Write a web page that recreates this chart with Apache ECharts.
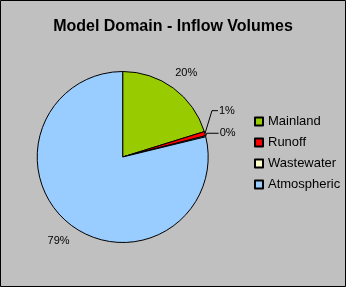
<!DOCTYPE html>
<html>
<head>
<meta charset="utf-8">
<script src="https://cdn.jsdelivr.net/npm/echarts@6/dist/echarts.min.js"></script>
<style>
html,body{margin:0;padding:0;background:#c0c0c0;}
#c{width:346px;height:287px;}
</style>
</head>
<body>
<div id="c"></div>
<script>
var categories = ['Mainland', 'Runoff', 'Wastewater', 'Atmospheric'];
var values = [20.2, 0.8, 0.2, 78.8];
var colors = ['#99cc00', '#ff0000', '#ffffcc', '#99ccff'];
var titleText = 'Model Domain - Inflow Volumes';

var CX = 122.7, CY = 157, R = 85.5;
var FONT = "'Liberation Sans', Arial, sans-serif";

var total = values.reduce(function (a, b) { return a + b; }, 0);
function midAngle(i) {
  var cum = 0;
  for (var k = 0; k < i; k++) cum += values[k];
  return (cum + values[i] / 2) / total * 2 * Math.PI;
}

var data = categories.map(function (name, i) {
  return {
    name: name,
    value: values[i],
    itemStyle: { color: colors[i] },
    labelLine: { show: (i === 1 || i === 2) }
  };
});

var chart = echarts.init(document.getElementById('c'));
chart.setOption({
  backgroundColor: '#c0c0c0',
  animation: false,
  title: {
    text: titleText,
    left: 'center',
    top: 19,
    padding: 0,
    textStyle: { fontFamily: FONT, fontSize: 16, fontWeight: 'bold', color: '#000' }
  },
  legend: {
    orient: 'vertical',
    left: 249,
    top: 110,
    itemWidth: 8,
    itemHeight: 8,
    itemGap: 8,
    icon: 'rect',
    data: categories,
    textStyle: { fontFamily: FONT, fontSize: 13, color: '#000', lineHeight: 13 }
  },
  graphic: [{
    type: 'rect',
    shape: { x: 0.5, y: 0.5, width: 345, height: 286 },
    style: { fill: 'none', stroke: '#000', lineWidth: 1 },
    silent: true
  }],
  series: [{
    type: 'pie',
    center: [CX, CY],
    radius: R,
    startAngle: 90,
    clockwise: true,
    avoidLabelOverlap: false,
    itemStyle: { borderColor: '#000', borderWidth: 1 },
    emphasis: { disabled: true },
    label: {
      show: true,
      position: 'outside',
      fontFamily: FONT,
      fontSize: 11,
      color: '#000',
      formatter: function (p) { return Math.round(p.percent) + '%'; }
    },
    labelLine: { lineStyle: { color: '#000', width: 1 }, length: 5, length2: 5 },
    labelLayout: function (p) {
      var i = p.dataIndex;
      var a = midAngle(i);
      var s = Math.sin(a), c = -Math.cos(a);
      if (i === 0 || i === 3) {
        var d = R + 20;
        return { x: CX + d * s + 1, y: CY + d * c + 1, align: 'center', verticalAlign: 'middle' };
      }
      var ex = CX + R * s, ey = CY + R * c;
      var ty = ey + (i === 1 ? -23 : -3);
      var tx = ex + 14;
      var bx = ex + (i === 1 ? 7 : 1);
      return {
        x: tx, y: ty, align: 'left', verticalAlign: 'middle',
        labelLinePoints: [[ex, ey], [bx, ty], [tx - 1, ty]]
      };
    },
    data: data
  }]
});
</script>
</body>
</html>
